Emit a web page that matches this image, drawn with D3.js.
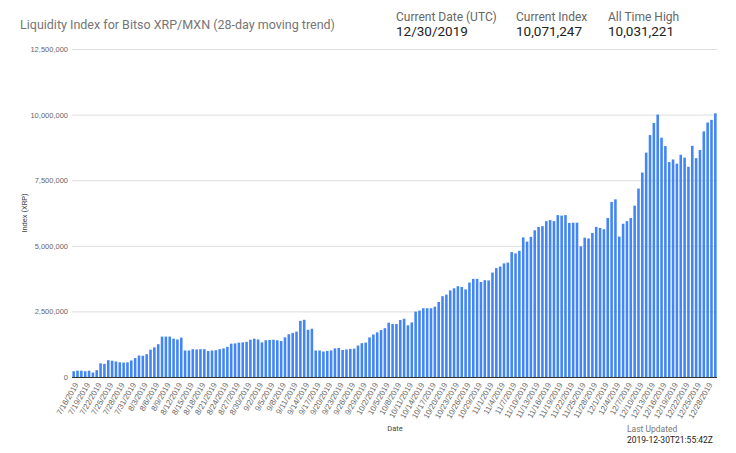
<!DOCTYPE html>
<html><head><meta charset="utf-8">
<script src="https://cdn.jsdelivr.net/npm/d3@7"></script>
<style>body{margin:0;background:#fff;font-family:Roboto,sans-serif}</style>
</head><body><svg id="c" width="736" height="453"></svg>
<script>
const startDate = "2019-07-16";
const values = [0.22,0.24,0.24,0.22,0.24,0.17,0.26,0.52,0.50,0.64,0.62,0.59,0.56,0.55,0.56,0.63,
0.72,0.82,0.81,0.87,1.04,1.13,1.25,1.54,1.54,1.54,1.46,1.43,1.50,1.01,1.01,1.06,1.05,1.06,1.06,0.99,1.01,1.02,1.06,1.09,1.15,1.27,1.28,1.31,1.32,1.34,1.42,
1.46,1.43,1.32,1.40,1.41,1.42,1.40,1.37,1.51,1.63,1.68,1.73,2.14,2.18,1.80,1.84,1.01,1.01,0.97,0.99,1.01,1.09,1.11,
1.03,1.05,1.07,1.08,1.20,1.29,1.31,
1.51,1.62,1.70,1.79,1.86,2.07,2.02,2.02,2.17,2.22,1.97,2.08,2.49,2.53,2.62,2.62,2.62,2.68,2.86,3.08,3.14,3.30,3.38,3.46,3.43,3.34,3.60,3.74,3.74,3.62,3.69,
3.68,3.98,4.15,4.21,4.33,4.36,4.76,4.71,4.81,
5.32,5.16,5.34,5.59,5.72,5.75,5.94,5.98,5.94,6.17,6.15,6.17,5.87,5.88,5.88,4.98,5.31,5.28,5.49,5.72,5.68,
5.63,6.06,6.67,6.77,5.35,5.84,5.94,6.06,6.53,7.18,7.79,8.55,9.22,9.68,10.00,9.12,8.80,8.19,8.29,8.13,8.47,8.36,8.01,8.81,8.34,8.65,9.36,9.70,9.80,10.05].map(v=>v*1e6);
const yTicks = [0,2500000,5000000,7500000,10000000,12500000];
const headers = [["Current Date (UTC)","12/30/2019"],["Current Index","10,071,247"],["All Time High","10,031,221"]];
const headerX = [396,516,608];

const svg = d3.select("#c");
const start = new Date(startDate+"T00:00:00");
const dates = values.map((v,i)=>d3.timeDay.offset(start,i));
const fmt = d=>`${d.getMonth()+1}/${d.getDate()}/${d.getFullYear()}`;
const x = d3.scaleBand().domain(dates.map(fmt)).range([72,717]).paddingInner(0.33).paddingOuter(0.1);
const y = d3.scaleLinear().domain([0,12500000]).range([377,49]);

svg.append("text").attr("x",20).attr("y",29).attr("font-size",12.5).attr("fill","#757575").text("Liquidity Index for Bitso XRP/MXN (28-day moving trend)");
headers.forEach((h,i)=>{
  svg.append("text").attr("x",headerX[i]).attr("y",21).attr("font-size",12).attr("fill","#666").text(h[0]);
  svg.append("text").attr("x",headerX[i]).attr("y",36).attr("font-size",13.5).attr("fill","#222").text(h[1]);
});

const ya = svg.append("g").attr("transform","translate(72,0)").call(d3.axisLeft(y).tickValues(yTicks).tickSize(-645).tickFormat(d3.format(",")));
ya.select(".domain").remove();
ya.selectAll("line").attr("stroke","#ddd");
ya.selectAll("text").attr("font-size",7.5).attr("fill","#666").attr("x",-4);

svg.append("g").selectAll("rect").data(values).join("rect")
 .attr("x",(d,i)=>x(fmt(dates[i]))).attr("width",x.bandwidth())
 .attr("y",d=>y(d)).attr("height",d=>377-y(d)).attr("fill","#4285f4");

svg.append("line").attr("x1",72).attr("x2",717).attr("y1",377.5).attr("y2",377.5).attr("stroke","#333");

const xa = svg.append("g").attr("transform","translate(0,378)").call(d3.axisBottom(x).tickValues(dates.filter((d,i)=>i%3===0).map(fmt)).tickSize(0));
xa.select(".domain").remove();
xa.selectAll("text").attr("font-size",8).attr("fill","#666").attr("text-anchor","end")
  .attr("transform","rotate(-60)").attr("dx","-0.4em").attr("dy","0.6em");

svg.append("text").attr("x",395).attr("y",431).attr("font-size",7.5).attr("fill","#444").attr("text-anchor","middle").text("Date");
svg.append("text").attr("transform","translate(27,213) rotate(-90)").attr("font-size",7.5).attr("fill","#444").attr("text-anchor","middle").text("Index (XRP)");
svg.append("text").attr("x",627).attr("y",432).attr("font-size",8.5).attr("fill","#777").text("Last Updated");
svg.append("text").attr("x",627).attr("y",443).attr("font-size",8.5).attr("fill","#222").text("2019-12-30T21:55:42Z");
</script></body></html>
